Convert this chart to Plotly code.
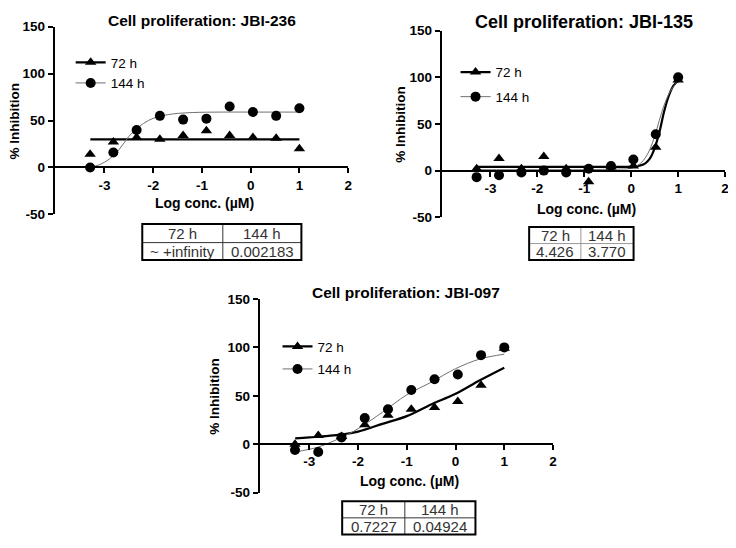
import plotly.graph_objects as go

# log10 concentration (uM), 3-fold dilution series
log_conc = [-3.294, -2.817, -2.340, -1.863, -1.386, -0.908, -0.431, 0.046, 0.523, 1.0]

# JBI-236
jbi236_72 = [14, 27, 32, 30, 34, 39, 34, 32, 31, 20]
jbi236_144 = [0, 16, 40, 55, 51, 52, 65, 59, 55, 63]
fit236_72_x = [-3.29, 1.0]
fit236_72_y = [30, 30]
fit236_144_x = [-3.29, -3.1, -2.9, -2.7, -2.5, -2.3, -2.1, -1.9, -1.6, -1.2, -0.6, 0.0, 1.0]
fit236_144_y = [0.5, 3, 9, 19, 33, 43, 50, 54, 57, 58.5, 59, 59, 59]
ic50_236 = ["~ +infinity", "0.002183"]

# JBI-135
jbi135_72 = [2, 13, 2, 15, 2, -12, 4, 5, 25, 97]
jbi135_144 = [-7, -5, -2, 0, -2, 2, 5, 12, 39, 100]
fit135_72_x = [-3.29, -2.0, -1.0, -0.5, 0.0, 0.2, 0.3, 0.4, 0.5, 0.6, 0.7, 0.8, 0.9, 1.0]
fit135_72_y = [4, 4, 4, 4, 4.2, 5.6, 7.8, 13, 24, 41, 63, 80, 91, 96]
fit135_144_x = [-3.29, -2.0, -1.0, -0.5, 0.0, 0.1, 0.2, 0.3, 0.4, 0.5, 0.6, 0.7, 0.8, 0.9, 1.0]
fit135_144_y = [1, 1, 1, 1.5, 2.5, 4.5, 7.8, 13.7, 23, 37, 54, 70, 82, 90, 96]
ic50_135 = ["4.426", "3.770"]

# JBI-097
jbi097_72 = [0, 9, 8, 20, 30, 36, 38, 44, 61, 99]
jbi097_144 = [-6, -8, 7, 27, 36, 56, 67, 72, 92, 100]
fit097_72_x = [-3.29, -3.0, -2.5, -2.0, -1.5, -1.0, -0.5, 0.0, 0.5, 1.0]
fit097_72_y = [6, 7, 9, 13, 21, 29, 41, 52, 66, 79]
fit097_144_x = [-3.29, -2.82, -2.34, -2.0, -1.5, -1.0, -0.5, 0.0, 0.5, 1.0]
fit097_144_y = [-8, -3, 7, 16, 33, 51, 64, 78, 88, 93]
ic50_097 = ["0.7227", "0.04924"]

series_names = ["72 h", "144 h"]
x_ticks = [-3, -2, -1, 0, 1, 2]
x_tick_text = ["-3", "-2", "-1", "0", "1", "2"]
y_ticks = [-50, 0, 50, 100, 150]
y_tick_text = ["-50", "0", "50", "100", "150"]

W, H = 736, 548
PAD = 8  # page body margin in the browser
FONT = "Liberation Sans, Arial, sans-serif"


def fx(p):
    return (p - PAD) / W


def fy(p):
    return 1 - (p - PAD) / H


def label(text, x, y, size=13, color="black", weight="normal", angle=0):
    return dict(text=text, x=fx(x), y=fy(y), xref="paper", yref="paper", xanchor="center", yanchor="middle",
                showarrow=False, textangle=angle, font=dict(family=FONT, size=size, color=color, weight=weight))


panels = [
    dict(title="Cell proliferation: JBI-236", tsize=15.5,
         y72=jbi236_72, y144=jbi236_144,
         f72=(fit236_72_x, fit236_72_y), f144=(fit236_144_x, fit236_144_y), ic50=ic50_236,
         xd=(55, 350), yd=(20, 213), xr=(-4.02, 2.0),
         title_xy=(203, 14), xt_y=201, yt_x=15,
         leg=(71, 41), leggap=0,
         table=(143, 224, 303, 223, 242, 260), inner="#333"),
    dict(title="Cell proliferation: JBI-135", tsize=18,
         y72=jbi135_72, y144=jbi135_144,
         f72=(fit135_72_x, fit135_72_y), f144=(fit135_144_x, fit135_144_y), ic50=ic50_135,
         xd=(444, 729), yd=(24, 216), xr=(-4.04, 2.0),
         title_xy=(587, 15), xt_y=207, yt_x=403,
         leg=(458, 51), leggap=4,
         table=(532, 584, 637, 226, 243, 260), inner="#999"),
    dict(title="Cell proliferation: JBI-097", tsize=15.5,
         y72=jbi097_72, y144=jbi097_144,
         f72=(fit097_72_x, fit097_72_y), f144=(fit097_144_x, fit097_144_y), ic50=ic50_097,
         xd=(261, 556), yd=(300, 499), xr=(-4.02, 2.0),
         title_xy=(408, 293), xt_y=487, yt_x=216,
         leg=(279, 333), leggap=2,
         table=(344, 407, 478, 508, 525, 542), inner="#333"),
]

fig = go.Figure()
shapes = []
annotations = []

for i, p in enumerate(panels):
    n = "" if i == 0 else str(i + 1)
    xa, ya, lg = "x" + n, "y" + n, "legend" + n

    # fitted curves
    fig.add_trace(go.Scatter(x=p["f72"][0], y=p["f72"][1], mode="lines", line=dict(color="black", width=2.2, shape="spline"),
                             xaxis=xa, yaxis=ya, showlegend=False, hoverinfo="skip"))
    fig.add_trace(go.Scatter(x=p["f144"][0], y=p["f144"][1], mode="lines", line=dict(color="#707070", width=1, shape="spline"),
                             xaxis=xa, yaxis=ya, showlegend=False, hoverinfo="skip"))
    # data points
    fig.add_trace(go.Scatter(x=log_conc, y=p["y72"], mode="markers", marker=dict(symbol="triangle-up", size=10, color="black"),
                             xaxis=xa, yaxis=ya, showlegend=False))
    fig.add_trace(go.Scatter(x=log_conc, y=p["y144"], mode="markers", marker=dict(symbol="circle", size=10, color="black"),
                             xaxis=xa, yaxis=ya, showlegend=False))
    # legend entries
    fig.add_trace(go.Scatter(x=[None], y=[None], mode="lines+markers", name=series_names[0], legend=lg, legendgroup=f"a{i}",
                             line=dict(color="black", width=2.2), marker=dict(symbol="triangle-up", size=10, color="black"),
                             xaxis=xa, yaxis=ya))
    fig.add_trace(go.Scatter(x=[None], y=[None], mode="lines+markers", name=series_names[1], legend=lg, legendgroup=f"b{i}",
                             line=dict(color="#707070", width=1), marker=dict(symbol="circle", size=10, color="black"),
                             xaxis=xa, yaxis=ya))

    x0, x1 = fx(p["xd"][0]), fx(p["xd"][1])
    y0, y1 = fy(p["yd"][1]), fy(p["yd"][0])
    zero_pos = y0 + (y1 - y0) * 0.25
    fig.layout["xaxis" + n] = dict(domain=[x0, x1], range=list(p["xr"]), anchor="free", position=zero_pos,
                                   tickvals=x_ticks, ticktext=x_tick_text, ticks="outside", ticklen=5, tickwidth=2,
                                   tickcolor="black", showline=True, linewidth=2, linecolor="black", showgrid=False,
                                   zeroline=False, tickfont=dict(family=FONT, size=13.5, color="black", weight="bold"))
    fig.layout["yaxis" + n] = dict(domain=[y0, y1], range=[-50, 150], anchor=xa,
                                   tickvals=y_ticks, ticktext=y_tick_text, ticks="outside", ticklen=5, tickwidth=2,
                                   tickcolor="black", showline=True, linewidth=2, linecolor="black", showgrid=False,
                                   zeroline=False, tickfont=dict(family=FONT, size=13.5, color="black", weight="bold"))
    fig.layout[lg] = dict(x=fx(p["leg"][0]), y=fy(p["leg"][1]), xanchor="left", yanchor="top",
                          bgcolor="rgba(0,0,0,0)", traceorder="grouped", tracegroupgap=p["leggap"],
                          font=dict(family=FONT, size=13.5, color="black"))

    # titles
    annotations.append(label(p["title"], p["title_xy"][0], p["title_xy"][1], size=p["tsize"], weight="bold"))
    xc = (p["xd"][0] + p["xd"][1]) / 2 + 3
    annotations.append(label("Log conc. (µM)", xc, p["xt_y"], size=14, weight="bold"))
    yc = p["yd"][0] + (p["yd"][1] - p["yd"][0]) * 0.5
    annotations.append(label("% Inhibition", p["yt_x"], yc, size=13.5, weight="bold", angle=-90))

    # IC50 table
    tl, tm, tr, tt, tmid, tb = p["table"]
    shapes.append(dict(type="line", xref="paper", yref="paper", x0=fx(tm), x1=fx(tm), y0=fy(tb), y1=fy(tt),
                       line=dict(color=p["inner"], width=1)))
    shapes.append(dict(type="line", xref="paper", yref="paper", x0=fx(tl), x1=fx(tr), y0=fy(tmid), y1=fy(tmid),
                       line=dict(color=p["inner"], width=1)))
    shapes.append(dict(type="rect", xref="paper", yref="paper", x0=fx(tl), x1=fx(tr), y0=fy(tb), y1=fy(tt),
                       line=dict(color="black", width=2)))
    cells = [(series_names[0], (tl + tm) / 2, (tt + tmid) / 2), (series_names[1], (tm + tr) / 2, (tt + tmid) / 2),
             (p["ic50"][0], (tl + tm) / 2, (tmid + tb) / 2), (p["ic50"][1], (tm + tr) / 2, (tmid + tb) / 2)]
    for txt, cx, cy in cells:
        annotations.append(label(txt, cx, cy, size=15, color="#333"))

fig.update_layout(width=W, height=H, margin=dict(l=0, r=0, t=0, b=0), plot_bgcolor="white", paper_bgcolor="white",
                  shapes=shapes, annotations=annotations, font=dict(family=FONT))

fig.write_html("out.html")
